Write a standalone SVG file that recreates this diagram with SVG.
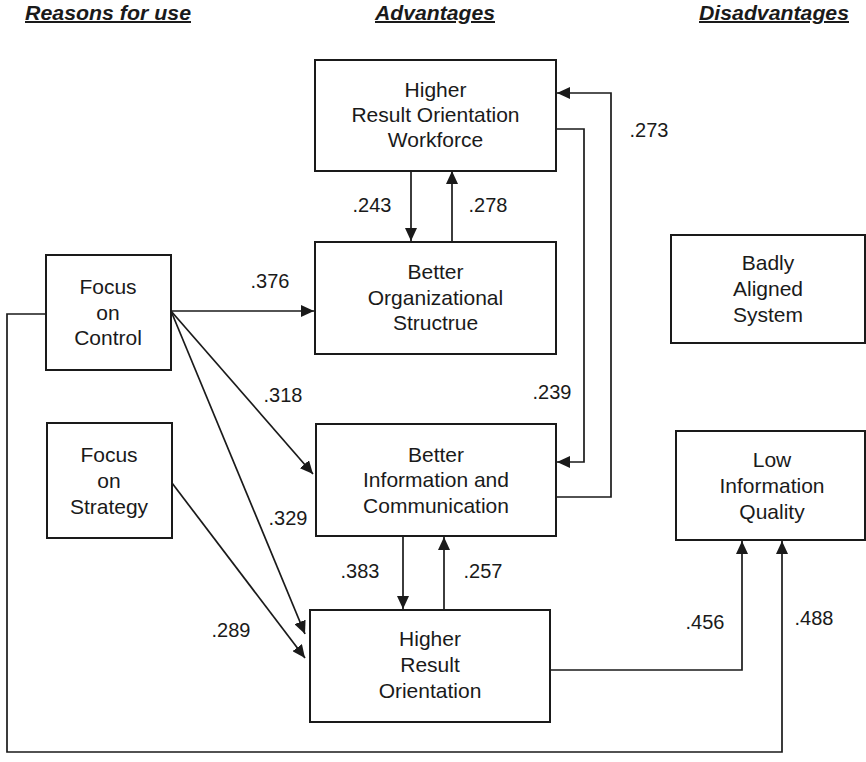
<svg xmlns="http://www.w3.org/2000/svg" width="866" height="762" viewBox="0 0 866 762">
  <style>
    .box { fill: #ffffff; stroke: #1a1a1a; stroke-width: 2; }
    .label { font-family: "Liberation Sans", Arial, sans-serif; font-size: 21px; fill: #1a1a1a; text-anchor: middle; }
    .head { font-family: "Liberation Sans", Arial, sans-serif; font-size: 20px; font-weight: bold; font-style: italic; fill: #1a1a1a; text-decoration: underline; }
    .edge { fill: none; stroke: #1a1a1a; stroke-width: 1.7; }
    .coef { font-family: "Liberation Sans", Arial, sans-serif; font-size: 20px; fill: #1a1a1a; text-anchor: middle; }
  </style>
  <defs>
    <marker id="arrow" markerUnits="userSpaceOnUse" markerWidth="13" markerHeight="12" refX="13" refY="6" orient="auto">
      <path d="M0,0 L13,6 L0,12 z" fill="#1a1a1a"/>
    </marker>
  </defs>
  <rect width="866" height="762" fill="#ffffff"/>

  <!-- column headings -->
  <g id="headings">
    <text class="head" x="25" y="20" textLength="166" lengthAdjust="spacingAndGlyphs">Reasons for use</text>
    <text class="head" x="375" y="20" textLength="120" lengthAdjust="spacingAndGlyphs">Advantages</text>
    <text class="head" x="699" y="20" textLength="150" lengthAdjust="spacingAndGlyphs">Disadvantages</text>
  </g>

  <!-- connectors -->
  <g id="connectors">
    <path class="edge" d="M411,171 L411,241" marker-end="url(#arrow)"/>
    <path class="edge" d="M452,242 L452,171" marker-end="url(#arrow)"/>
    <path class="edge" d="M171,311 L314,311" marker-end="url(#arrow)"/>
    <path class="edge" d="M171,311 L313,474" marker-end="url(#arrow)"/>
    <path class="edge" d="M171,311 L305,634" marker-end="url(#arrow)"/>
    <path class="edge" d="M172,483 L305,658" marker-end="url(#arrow)"/>
    <path class="edge" d="M403,536 L403,609" marker-end="url(#arrow)"/>
    <path class="edge" d="M444,610 L444,537" marker-end="url(#arrow)"/>
    <path class="edge" d="M556,129 H584 V462 H557" marker-end="url(#arrow)"/>
    <path class="edge" d="M556,497 H611 V93 H557" marker-end="url(#arrow)"/>
    <path class="edge" d="M550,670 H742 V541" marker-end="url(#arrow)"/>
    <path class="edge" d="M46,314 H7 V752 H782 V541" marker-end="url(#arrow)"/>
  </g>

  <!-- path coefficients -->
  <g id="coefficients">
    <text class="coef" x="270" y="288">.376</text>
    <text class="coef" x="283" y="402">.318</text>
    <text class="coef" x="288" y="525">.329</text>
    <text class="coef" x="231" y="637">.289</text>
    <text class="coef" x="372" y="212">.243</text>
    <text class="coef" x="488" y="212">.278</text>
    <text class="coef" x="360" y="578">.383</text>
    <text class="coef" x="483" y="578">.257</text>
    <text class="coef" x="552" y="399">.239</text>
    <text class="coef" x="649" y="137">.273</text>
    <text class="coef" x="705" y="629">.456</text>
    <text class="coef" x="814" y="625">.488</text>
  </g>

  <g id="focus-control">
    <rect class="box" x="46" y="255" width="125" height="115"/>
    <text class="label" x="108" y="294">Focus</text>
    <text class="label" x="108" y="320">on</text>
    <text class="label" x="108" y="345">Control</text>
  </g>

  <g id="focus-strategy">
    <rect class="box" x="47" y="423" width="125" height="115"/>
    <text class="label" x="109" y="462">Focus</text>
    <text class="label" x="109" y="488">on</text>
    <text class="label" x="109" y="514">Strategy</text>
  </g>

  <g id="result-workforce">
    <rect class="box" x="315" y="60" width="241" height="111"/>
    <text class="label" x="435.5" y="97">Higher</text>
    <text class="label" x="435.5" y="122">Result Orientation</text>
    <text class="label" x="435.5" y="147">Workforce</text>
  </g>

  <g id="org-structure">
    <rect class="box" x="315" y="242" width="241" height="112"/>
    <text class="label" x="435.5" y="279">Better</text>
    <text class="label" x="435.5" y="305">Organizational</text>
    <text class="label" x="435.5" y="330">Structrue</text>
  </g>

  <g id="info-communication">
    <rect class="box" x="316" y="424" width="240" height="112"/>
    <text class="label" x="436" y="462">Better</text>
    <text class="label" x="436" y="487">Information and</text>
    <text class="label" x="436" y="513">Communication</text>
  </g>

  <g id="result-orientation">
    <rect class="box" x="310" y="610" width="240" height="112"/>
    <text class="label" x="430" y="646">Higher</text>
    <text class="label" x="430" y="672">Result</text>
    <text class="label" x="430" y="698">Orientation</text>
  </g>

  <g id="badly-aligned">
    <rect class="box" x="671" y="235" width="194" height="108"/>
    <text class="label" x="768" y="270">Badly</text>
    <text class="label" x="768" y="296">Aligned</text>
    <text class="label" x="768" y="322">System</text>
  </g>

  <g id="low-info-quality">
    <rect class="box" x="676" y="431" width="189" height="109"/>
    <text class="label" x="772" y="467">Low</text>
    <text class="label" x="772" y="493">Information</text>
    <text class="label" x="772" y="519">Quality</text>
  </g>
</svg>
